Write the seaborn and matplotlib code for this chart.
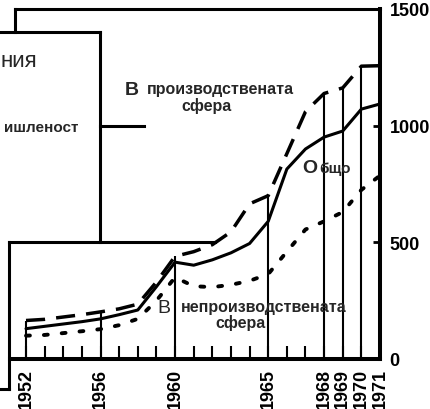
import matplotlib
matplotlib.use('Agg')
import matplotlib.pyplot as plt
import seaborn as sns
import pandas as pd
from matplotlib.lines import Line2D

# ---- data ----
years = list(range(1952, 1972))
total = [130, 140, 150, 160, 172, 190, 210, 310, 415, 402, 425, 455, 495, 590,
         814, 900, 951, 977, 1071, 1093]
productive = [165, 170, 180, 190, 202, 215, 235, 330, 440, 460, 490, 545, 665, 700,
              880, 1060, 1138, 1162, 1255, 1257]
nonproductive = [100, 103, 111, 119, 128, 145, 172, 250, 350, 312, 308, 318, 335, 364,
                 460, 555, 590, 630, 725, 786]
label_years = [1952, 1956, 1960, 1965, 1968, 1969, 1970, 1971]
y_ticks = [0, 500, 1000, 1500]

sns.set_style('white')
plt.rcParams['font.family'] = ['Liberation Sans', 'DejaVu Sans']

W, H = 431, 410
fig = plt.figure(figsize=(W / 100, H / 100), dpi=100)
fig.patch.set_facecolor('white')
ax = fig.add_axes([10 / W, 50 / H, 370 / W, 350 / H])

df = pd.DataFrame({'year': years, 'total': total,
                   'prod': productive, 'nonprod': nonproductive})
sns.lineplot(data=df, x='year', y='total', ax=ax, color='black', lw=2.2, clip_on=False)
sns.lineplot(data=df, x='year', y='prod', ax=ax, color='black', lw=2.5, clip_on=False)
sns.lineplot(data=df, x='year', y='nonprod', ax=ax, color='black', lw=2.8, clip_on=False)
ax.lines[1].set_linestyle((0, (5.5, 3.2)))
ax.lines[2].set_linestyle((0, (1.0, 3.6)))
ax.lines[2].set_dash_capstyle('round')

# drop lines at labelled years
prod_map = dict(zip(years, productive))
drop_years = label_years[:-1]
ax.vlines(drop_years, 0, [prod_map[y] for y in drop_years], colors='black', lw=1.5)

ax.set_xlim(1951.14, 1971.0)
ax.set_ylim(0, 1500)
ax.set_xlabel('')
ax.set_ylabel('')

ax.set_xticks(label_years)
ax.set_xticks(years, minor=True)
ax.set_xticklabels([str(y) for y in label_years], rotation=90,
                   fontsize=13, fontweight='bold')
ax.tick_params(axis='x', which='both', direction='in', length=9.4, width=1.5,
               bottom=True, top=False, pad=6.5, colors='black')

ax.yaxis.tick_right()
ax.set_yticks(y_ticks)
ax.set_yticklabels([str(v) for v in y_ticks], fontsize=13, fontweight='bold')
ax.tick_params(axis='y', which='major', direction='in', length=5, width=2,
               right=True, left=False, pad=7, colors='black')

for s in ['left', 'top']:
    ax.spines[s].set_visible(False)
for s in ['right', 'bottom']:
    ax.spines[s].set_linewidth(2.9)
    ax.spines[s].set_color('black')
ax.spines['bottom'].set_bounds(1951.14, 1971.0)


def fx(px):
    return px / W


def fy(py):
    return 1 - py / H


def frame(x0, y0, x1, y1, lw=2.2):
    fig.add_artist(Line2D([fx(x0), fx(x1)], [fy(y0), fy(y1)],
                          transform=fig.transFigure, color='black', lw=lw,
                          solid_capstyle='projecting'))


# surrounding frame pieces of the page layout
frame(15, 10, 380, 10)
frame(15, 10, 15, 33)
frame(0, 33, 100, 33)
frame(100, 33, 100, 243)
frame(100, 127, 144, 127)
frame(9, 243, 215, 243)
frame(9, 243, 9, 390)
frame(0, 390, 9, 390)

# texts
fig.text(fx(37), fy(67), 'ния', fontsize=16, ha='right', va='baseline')
fig.text(fx(78), fy(132), 'ишленост', fontsize=11, fontweight='bold',
         ha='right', va='baseline')

fig.text(fx(125), fy(95), 'В', fontsize=14, fontweight='bold', ha='left', va='baseline')
fig.text(fx(147), fy(94), 'производствената', fontsize=11.5, fontweight='bold',
         ha='left', va='baseline')
fig.text(fx(207), fy(110.5), 'сфера', fontsize=11.5, fontweight='bold',
         ha='center', va='baseline')

fig.text(fx(302), fy(173), 'О', fontsize=14, fontweight='bold', ha='left', va='baseline')
fig.text(fx(319), fy(173), 'бщо', fontsize=11, fontweight='bold', ha='left', va='baseline')

fig.text(fx(157), fy(313), 'В', fontsize=14, ha='left', va='baseline')
fig.text(fx(181), fy(312), 'непроизводствената', fontsize=11.5, fontweight='bold',
         ha='left', va='baseline')
fig.text(fx(241), fy(328), 'сфера', fontsize=11.5, fontweight='bold',
         ha='center', va='baseline')

fig.savefig('out.png', dpi=100, facecolor='white')
